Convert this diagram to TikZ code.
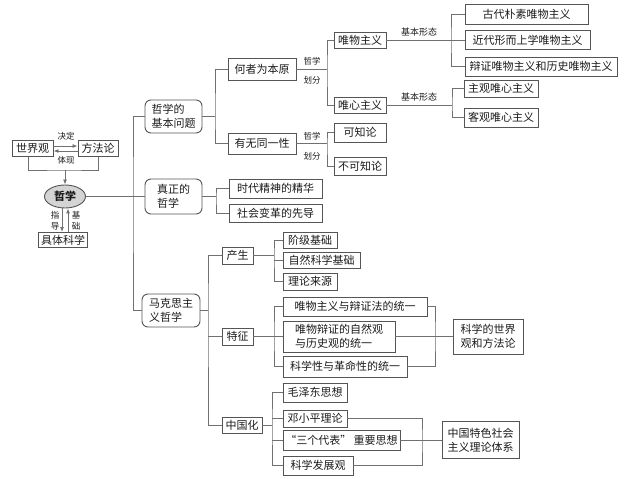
\documentclass[tikz,border=0pt]{standalone}
\usepackage{fontspec}
\newfontfamily\cjk{Noto Sans CJK SC}
\usetikzlibrary{arrows.meta,shapes.geometric,calc}
\definecolor{ln}{HTML}{707070}
\definecolor{bd}{HTML}{555555}
\definecolor{tx}{HTML}{1A1A1A}
\definecolor{ef}{HTML}{D4D4D4}
\tikzset{
  bw/.style={minimum width=#1*1bp},
  bh/.style={minimum height=#1*1bp},
  box/.style={draw=bd,line width=0.9bp,inner sep=0pt,text=tx,align=center,font=\cjk\fontsize{11bp}{14bp}\selectfont},
  rbox/.style={box,rounded corners=6bp,align=left},
  lbl/.style={inner sep=0pt,text=tx,font=\cjk\fontsize{8.5bp}{10bp}\selectfont},
  con/.style={draw=ln,line width=0.9bp},
  arr/.style={con,-{Latex[length=5bp,width=4bp]}}
}
\begin{document}
\begin{tikzpicture}[x=1bp,y=-1bp]
\useasboundingbox (0,0) rectangle (629,479);
% left cluster
\node[box,bw=41,bh=16] (sjg) at (32.5,148.5) {世界观};
\node[box,bw=40,bh=16] (ffl) at (98,148.5) {方法论};
\node[ellipse,draw=bd,fill=ef,line width=0.9bp,minimum width=41bp,minimum height=23bp,inner sep=0pt,text=tx,font=\cjk\fontsize{11bp}{13bp}\selectfont\bfseries] (zx) at (65,196.5) {哲学};
\node[box,bw=49,bh=15] (jt) at (63,240) {具体科学};
\node[lbl] (ljd) at (66,136.5) {决定};
\node[lbl] (ltx) at (66,160.5) {体现};
\node[lbl,align=center,font=\cjk\fontsize{8.5bp}{11bp}\selectfont] (lzd) at (55,220.5) {指\\导};
\node[lbl,align=center,font=\cjk\fontsize{8.5bp}{11bp}\selectfont] (ljc) at (76,220.5) {基\\础};
\draw[arr] ([yshift=2.5bp]sjg.east) -- ([yshift=2.5bp]ffl.west);
\draw[arr] ([yshift=-2.5bp]ffl.west) -- ([yshift=-2.5bp]sjg.east);
\coordinate (j0) at (65,170);
\draw[con] ([xshift=-4bp]sjg.south) |- (j0) -| (ffl.south);
\draw[arr] (j0) -- (zx.north);
\coordinate (p1) at ([xshift=-3bp]zx.south);
\coordinate (p2) at ([xshift=3bp]zx.south);
\draw[arr] (p1) -- (p1 |- jt.north);
\draw[arr] (p2 |- jt.north) -- (p2);
% level 1
\node[rbox,bw=57,bh=33] (jb) at (173.5,116.5) {哲学的\\基本问题};
\node[rbox,bw=57,bh=35] (zz) at (173.5,196.5) {真正的\\哲学};
\node[rbox,bw=58,bh=33] (mk) at (171,310.5) {马克思主\\义哲学};
\coordinate (s1) at (133,196.5);
\draw[con] (zx.east) -- (zz.west);
\draw[con] (jb.west) -| (s1) |- (mk.west);
% basic question
\node[box,bw=68,bh=22] (hz) at (262,69) {何者为本原};
\node[box,bw=68,bh=21] (yw) at (262,143.5) {有无同一性};
\coordinate (j2) at (215,116.5);
\draw[con] (jb.east) -- (j2);
\draw[con] (hz.west) -| (j2) |- (yw.west);
\node[lbl] (l1a) at (312,61) {哲学};
\node[lbl] (l1b) at (312,80) {划分};
\node[lbl] (l2a) at (312,136) {哲学};
\node[lbl] (l2b) at (312,156) {划分};
\node[box,bw=52,bh=16] (wu) at (360,40) {唯物主义};
\node[box,bw=52,bh=16] (wx) at (360,105) {唯心主义};
\node[box,bw=52,bh=19] (kz) at (360,132.5) {可知论};
\node[box,bw=52,bh=18] (bk) at (360,166) {不可知论};
\coordinate (j4) at (327,69);
\draw[con] (hz.east) -- (j4);
\draw[con] (wu.west) -| (j4) |- (wx.west);
\coordinate (j5) at (327,143.5);
\draw[con] (yw.east) -- (j5);
\draw[con] (kz.west) -| (j5) |- (bk.west);
\node[box,bw=123,bh=20] (g1) at (526.5,14) {古代朴素唯物主义};
\node[box,bw=125,bh=19] (g2) at (527.5,40) {近代形而上学唯物主义};
\node[box,bw=152,bh=19] (g3) at (541,66.5) {辩证唯物主义和历史唯物主义};
\node[box,bw=74,bh=17] (zg) at (501,88.5) {主观唯心主义};
\node[box,bw=74,bh=19] (kg) at (501,117.5) {客观唯心主义};
\node[lbl,font=\cjk\fontsize{9bp}{10bp}\selectfont] (l3) at (419,32) {基本形态};
\node[lbl,font=\cjk\fontsize{9bp}{10bp}\selectfont] (l4) at (419,97) {基本形态};
\coordinate (j6) at (451,40);
\draw[con] (wu.east) -- (g2.west);
\draw[con] (g1.west) -| (j6) |- (g3.west);
\coordinate (j7) at (452,105);
\draw[con] (wx.east) -- (j7);
\draw[con] (zg.west) -| (j7) |- (kg.west);
% true philosophy
\node[box,bw=93,bh=19] (sd) at (275.5,188.5) {时代精神的精华};
\node[box,bw=93,bh=18] (sh) at (275.5,213) {社会变革的先导};
\coordinate (j3) at (216,196.5);
\draw[con] (zz.east) -- (j3);
\draw[con] (sd.west) -| (j3) |- (sh.west);
% marxism
\node[box,bw=31,bh=17] (cs) at (237.5,255.5) {产生};
\node[box,bw=31,bh=17] (tz) at (237.5,336.5) {特征};
\node[box,bw=40,bh=16] (zhg) at (242,425) {中国化};
\coordinate (j8) at (208,310.5);
\draw[con] (mk.east) -- (j8);
\draw[con] (cs.west) -| (j8) |- (zhg.west);
\draw[con] (tz.west) -- (tz.west -| j8);
\node[box,bw=54,bh=16] (a1) at (310,240) {阶级基础};
\node[box,bw=77,bh=16] (a2) at (321.5,260) {自然科学基础};
\node[box,bw=54,bh=17] (a3) at (310,281.5) {理论来源};
\coordinate (j9) at (274,255.5);
\draw[con] (cs.east) -- (j9);
\draw[con] (a1.west) -| (j9) |- (a3.west);
\draw[con] (a2.west) -- (a2.west -| j9);
\node[box,bw=144,bh=19] (b1) at (355,306.5) {唯物主义与辩证法的统一};
\node[box,bw=112,bh=31,align=left] (b2) at (339,336.5) {唯物辩证的自然观\\与历史观的统一};
\node[box,bw=124,bh=21] (b3) at (345,366.5) {科学性与革命性的统一};
\coordinate (j10) at (274,336.5);
\draw[con] (tz.east) -- (j10);
\draw[con] (b1.west) -| (j10) |- (b3.west);
\draw[con] (b2.west) -- (j10);
\node[box,bw=70,bh=35,align=left] (kx) at (488,336.5) {科学的世界\\观和方法论};
\coordinate (j12) at (435,336.5);
\draw[con] (b1.east) -| (j12) |- (b3.east);
\draw[con] (b2.east) -- (kx.west);
\node[box,bw=64,bh=19] (c1) at (315,392.5) {毛泽东思想};
\node[box,bw=64,bh=17] (c2) at (315,418.5) {邓小平理论};
\node[box,bw=117,bh=20] (c3) at (341.5,440) {“三个代表” 重要思想};
\node[box,bw=70,bh=19] (c4) at (318,465.5) {科学发展观};
\coordinate (j11) at (272,425);
\draw[con] (zhg.east) -- (j11);
\draw[con] (c1.west) -| (j11) |- (c4.west);
\draw[con] (c2.west) -- (c2.west -| j11);
\draw[con] (c3.west) -- (c3.west -| j11);
\node[box,bw=77,bh=37,align=left] (zt) at (480.5,440) {中国特色社会\\主义理论体系};
\coordinate (j13) at (422,440);
\draw[con] (c2.east) -| (j13) |- (c4.east);
\draw[con] (c3.east) -- (zt.west);
\end{tikzpicture}
\end{document}
